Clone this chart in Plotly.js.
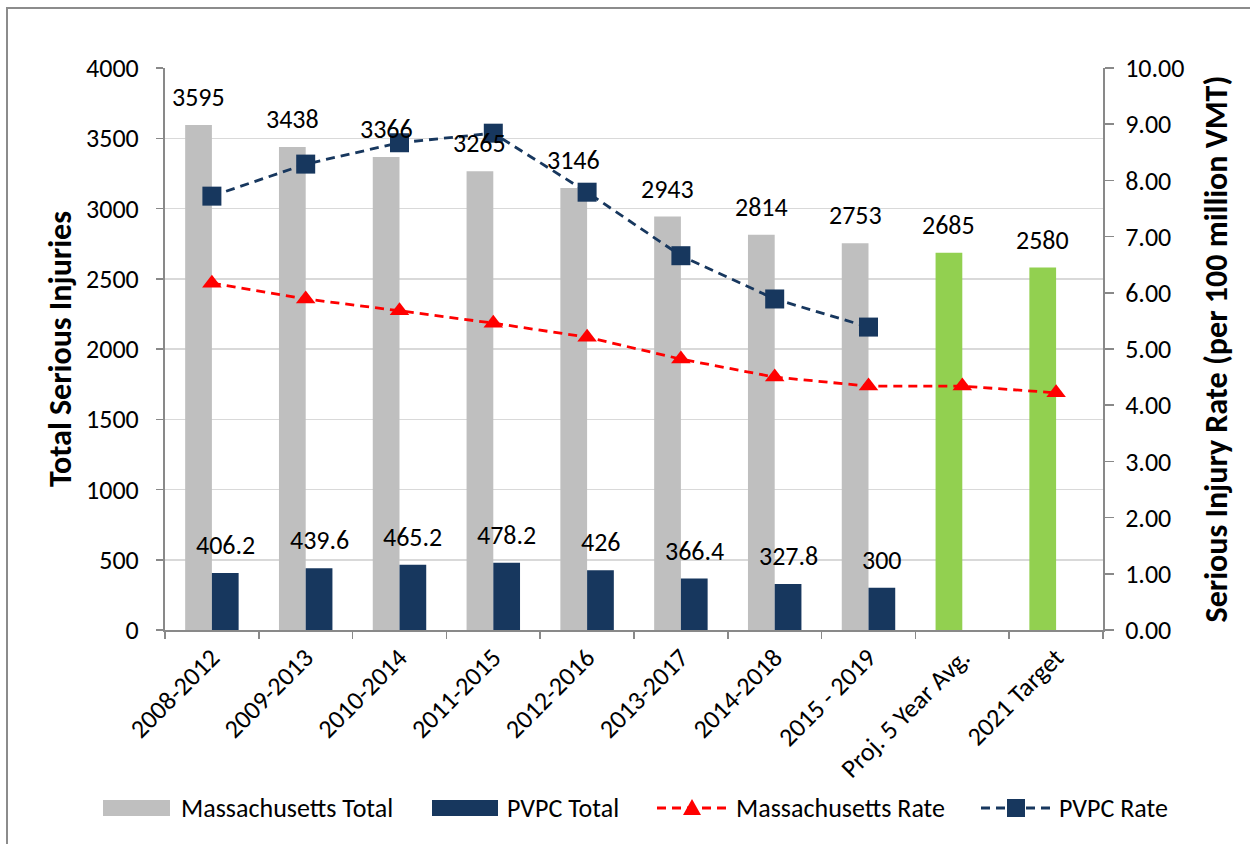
<!DOCTYPE html>
<html>
<head>
<meta charset="utf-8">
<script src="https://cdn.plot.ly/plotly-3.0.1.min.js"></script>
<style>
  html, body { margin: 0; padding: 0; background: #fff; }
  #wrap { position: relative; width: 1250px; height: 844px; overflow: hidden; }
  #chart { position: absolute; left: 0; top: 0; width: 1250px; height: 844px; }
  #frame { position: absolute; left: 6px; top: 7px; width: 1260px; height: 860px;
           border-top: 2px solid #8c8c8c; border-left: 2px solid #8c8c8c; pointer-events: none; }
</style>
</head>
<body>
<div id="wrap">
  <div id="chart"></div>
  <div id="frame"></div>
</div>
<script>
const categories = ["2008-2012", "2009-2013", "2010-2014", "2011-2015", "2012-2016",
                    "2013-2017", "2014-2018", "2015 - 2019", "Proj. 5 Year Avg.", "2021 Target"];
const massTotal = [3595, 3438, 3366, 3265, 3146, 2943, 2814, 2753, 2685, 2580];
const pvpcTotal = [406.2, 439.6, 465.2, 478.2, 426, 366.4, 327.8, 300, null, null];
const massRate = [6.17, 5.89, 5.68, 5.46, 5.21, 4.82, 4.50, 4.34, 4.34, 4.22];
const pvpcRate = [7.72, 8.29, 8.67, 8.84, 7.79, 6.66, 5.89, 5.39, null, null];
const massColors = ["#BFBFBF", "#BFBFBF", "#BFBFBF", "#BFBFBF", "#BFBFBF",
                    "#BFBFBF", "#BFBFBF", "#BFBFBF", "#92D050", "#92D050"];
const seriesNames = ["Massachusetts Total", "PVPC Total", "Massachusetts Rate", "PVPC Rate"];

const FONT = "Carlito, Calibri, Lato, 'Liberation Sans', sans-serif";
const NAVY = "#17375E";
const RED = "#FF0000";
const GRAY = "#BFBFBF";
const AXIS = "#898989";

const traces = [
  { type: "bar", name: seriesNames[0], x: categories, y: massTotal,
    marker: { color: massColors }, yaxis: "y", showlegend: false },
  { type: "bar", name: seriesNames[1], x: categories, y: pvpcTotal,
    marker: { color: NAVY }, yaxis: "y", showlegend: false },
  { type: "scatter", mode: "lines+markers", name: seriesNames[2], x: categories, y: massRate,
    yaxis: "y2", line: { color: RED, width: 2.8, dash: "9px,6px" },
    marker: { symbol: "triangle-up", size: 17, color: RED }, showlegend: false },
  { type: "scatter", mode: "lines+markers", name: seriesNames[3], x: categories, y: pvpcRate,
    yaxis: "y2", line: { color: NAVY, width: 2.8, dash: "9px,6px" },
    marker: { symbol: "square", size: 19, color: NAVY }, showlegend: false }
];

// value labels
const annotations = [];
categories.forEach((c, i) => {
  if (massTotal[i] != null) {
    annotations.push({ x: c, y: massTotal[i], xref: "x", yref: "y", text: String(massTotal[i]),
      showarrow: false, yanchor: "bottom", xshift: -13.4, yshift: 10,
      font: { family: FONT, size: 26, color: "#000" } });
  }
  if (pvpcTotal[i] != null) {
    annotations.push({ x: c, y: pvpcTotal[i], xref: "x", yref: "y", text: String(pvpcTotal[i]),
      showarrow: false, yanchor: "bottom", xshift: 13.4, yshift: 10,
      font: { family: FONT, size: 26, color: "#000" } });
  }
});

// custom legend (paper coordinates; plot area is 938 x 562 px starting at (165, 68))
const PL = 165, PT = 68, PW = 938, PH = 562;
const px = v => (v - PL) / PW;
const py = v => (PT + PH - v) / PH;
const LY = 808;
const shapes = [];
shapes.push({ type: "rect", xref: "paper", yref: "paper", x0: px(103), x1: px(170), y0: py(816), y1: py(800),
  fillcolor: GRAY, line: { width: 0 } });
shapes.push({ type: "rect", xref: "paper", yref: "paper", x0: px(432), x1: px(498), y0: py(816), y1: py(800),
  fillcolor: NAVY, line: { width: 0 } });
shapes.push({ type: "line", xref: "paper", yref: "paper", x0: px(657), x1: px(728), y0: py(LY), y1: py(LY),
  line: { color: RED, width: 2.8, dash: "9px,6px" } });
shapes.push({ type: "line", xref: "paper", yref: "paper", x0: px(981), x1: px(1050), y0: py(LY), y1: py(LY),
  line: { color: NAVY, width: 2.8, dash: "9px,6px" } });
shapes.push({ type: "path", xref: "paper", yref: "paper",
  path: `M ${px(683)},${py(LY + 7)} L ${px(701)},${py(LY + 7)} L ${px(692)},${py(LY - 9)} Z`,
  fillcolor: RED, line: { width: 0 } });
shapes.push({ type: "rect", xref: "paper", yref: "paper", x0: px(1007), x1: px(1025), y0: py(LY + 9), y1: py(LY - 9),
  fillcolor: NAVY, line: { width: 0 } });

const legendTextX = [179, 505, 734, 1057];
seriesNames.forEach((n, i) => {
  annotations.push({ xref: "paper", yref: "paper", x: px(legendTextX[i]), y: py(LY), text: n,
    xanchor: "left", yanchor: "middle", showarrow: false,
    font: { family: FONT, size: 26, color: "#000" } });
});

const layout = {
  width: 1250, height: 844,
  margin: { l: PL, r: 1250 - PL - PW, t: PT, b: 844 - PT - PH },
  paper_bgcolor: "#ffffff", plot_bgcolor: "#ffffff",
  font: { family: FONT, size: 26, color: "#000" },
  barmode: "group", bargap: 0.43, bargroupgap: 0,
  showlegend: false,
  xaxis: { type: "category", range: [-0.5, 9.5], tickangle: -45, ticks: "outside", tickson: "boundaries",
           ticklen: 7, tickcolor: AXIS, tickwidth: 1.5, showline: true, linecolor: AXIS, linewidth: 2,
           tickfont: { family: FONT, size: 26, color: "#000" }, showgrid: false },
  yaxis: { range: [0, 4000], dtick: 500, tick0: 0, ticks: "outside", ticklen: 7, tickcolor: AXIS, tickwidth: 1.5,
           ticklabelstandoff: 12,
           showline: true, linecolor: AXIS, linewidth: 2, gridcolor: "#D9D9D9", gridwidth: 1.5,
           zeroline: false, tickfont: { family: FONT, size: 26, color: "#000" },
           title: { text: "Total Serious Injuries", standoff: 5,
                    font: { family: FONT, size: 32, weight: "bold", color: "#000" } } },
  yaxis2: { range: [0, 10], dtick: 1, tick0: 0, tickformat: ".2f", overlaying: "y", side: "right",
            ticks: "outside", ticklen: 9, tickcolor: AXIS, tickwidth: 1.5, ticklabelstandoff: 6,
            showline: true, linecolor: AXIS, linewidth: 2,
            showgrid: false, zeroline: false, tickfont: { family: FONT, size: 26, color: "#000" },
            title: { text: "Serious Injury Rate (per 100 million VMT)", standoff: 21,
                     font: { family: FONT, size: 32, weight: "bold", color: "#000" } } },
  annotations: annotations,
  shapes: shapes
};

Plotly.newPlot("chart", traces, layout, { displayModeBar: false, staticPlot: true });
</script>
</body>
</html>
